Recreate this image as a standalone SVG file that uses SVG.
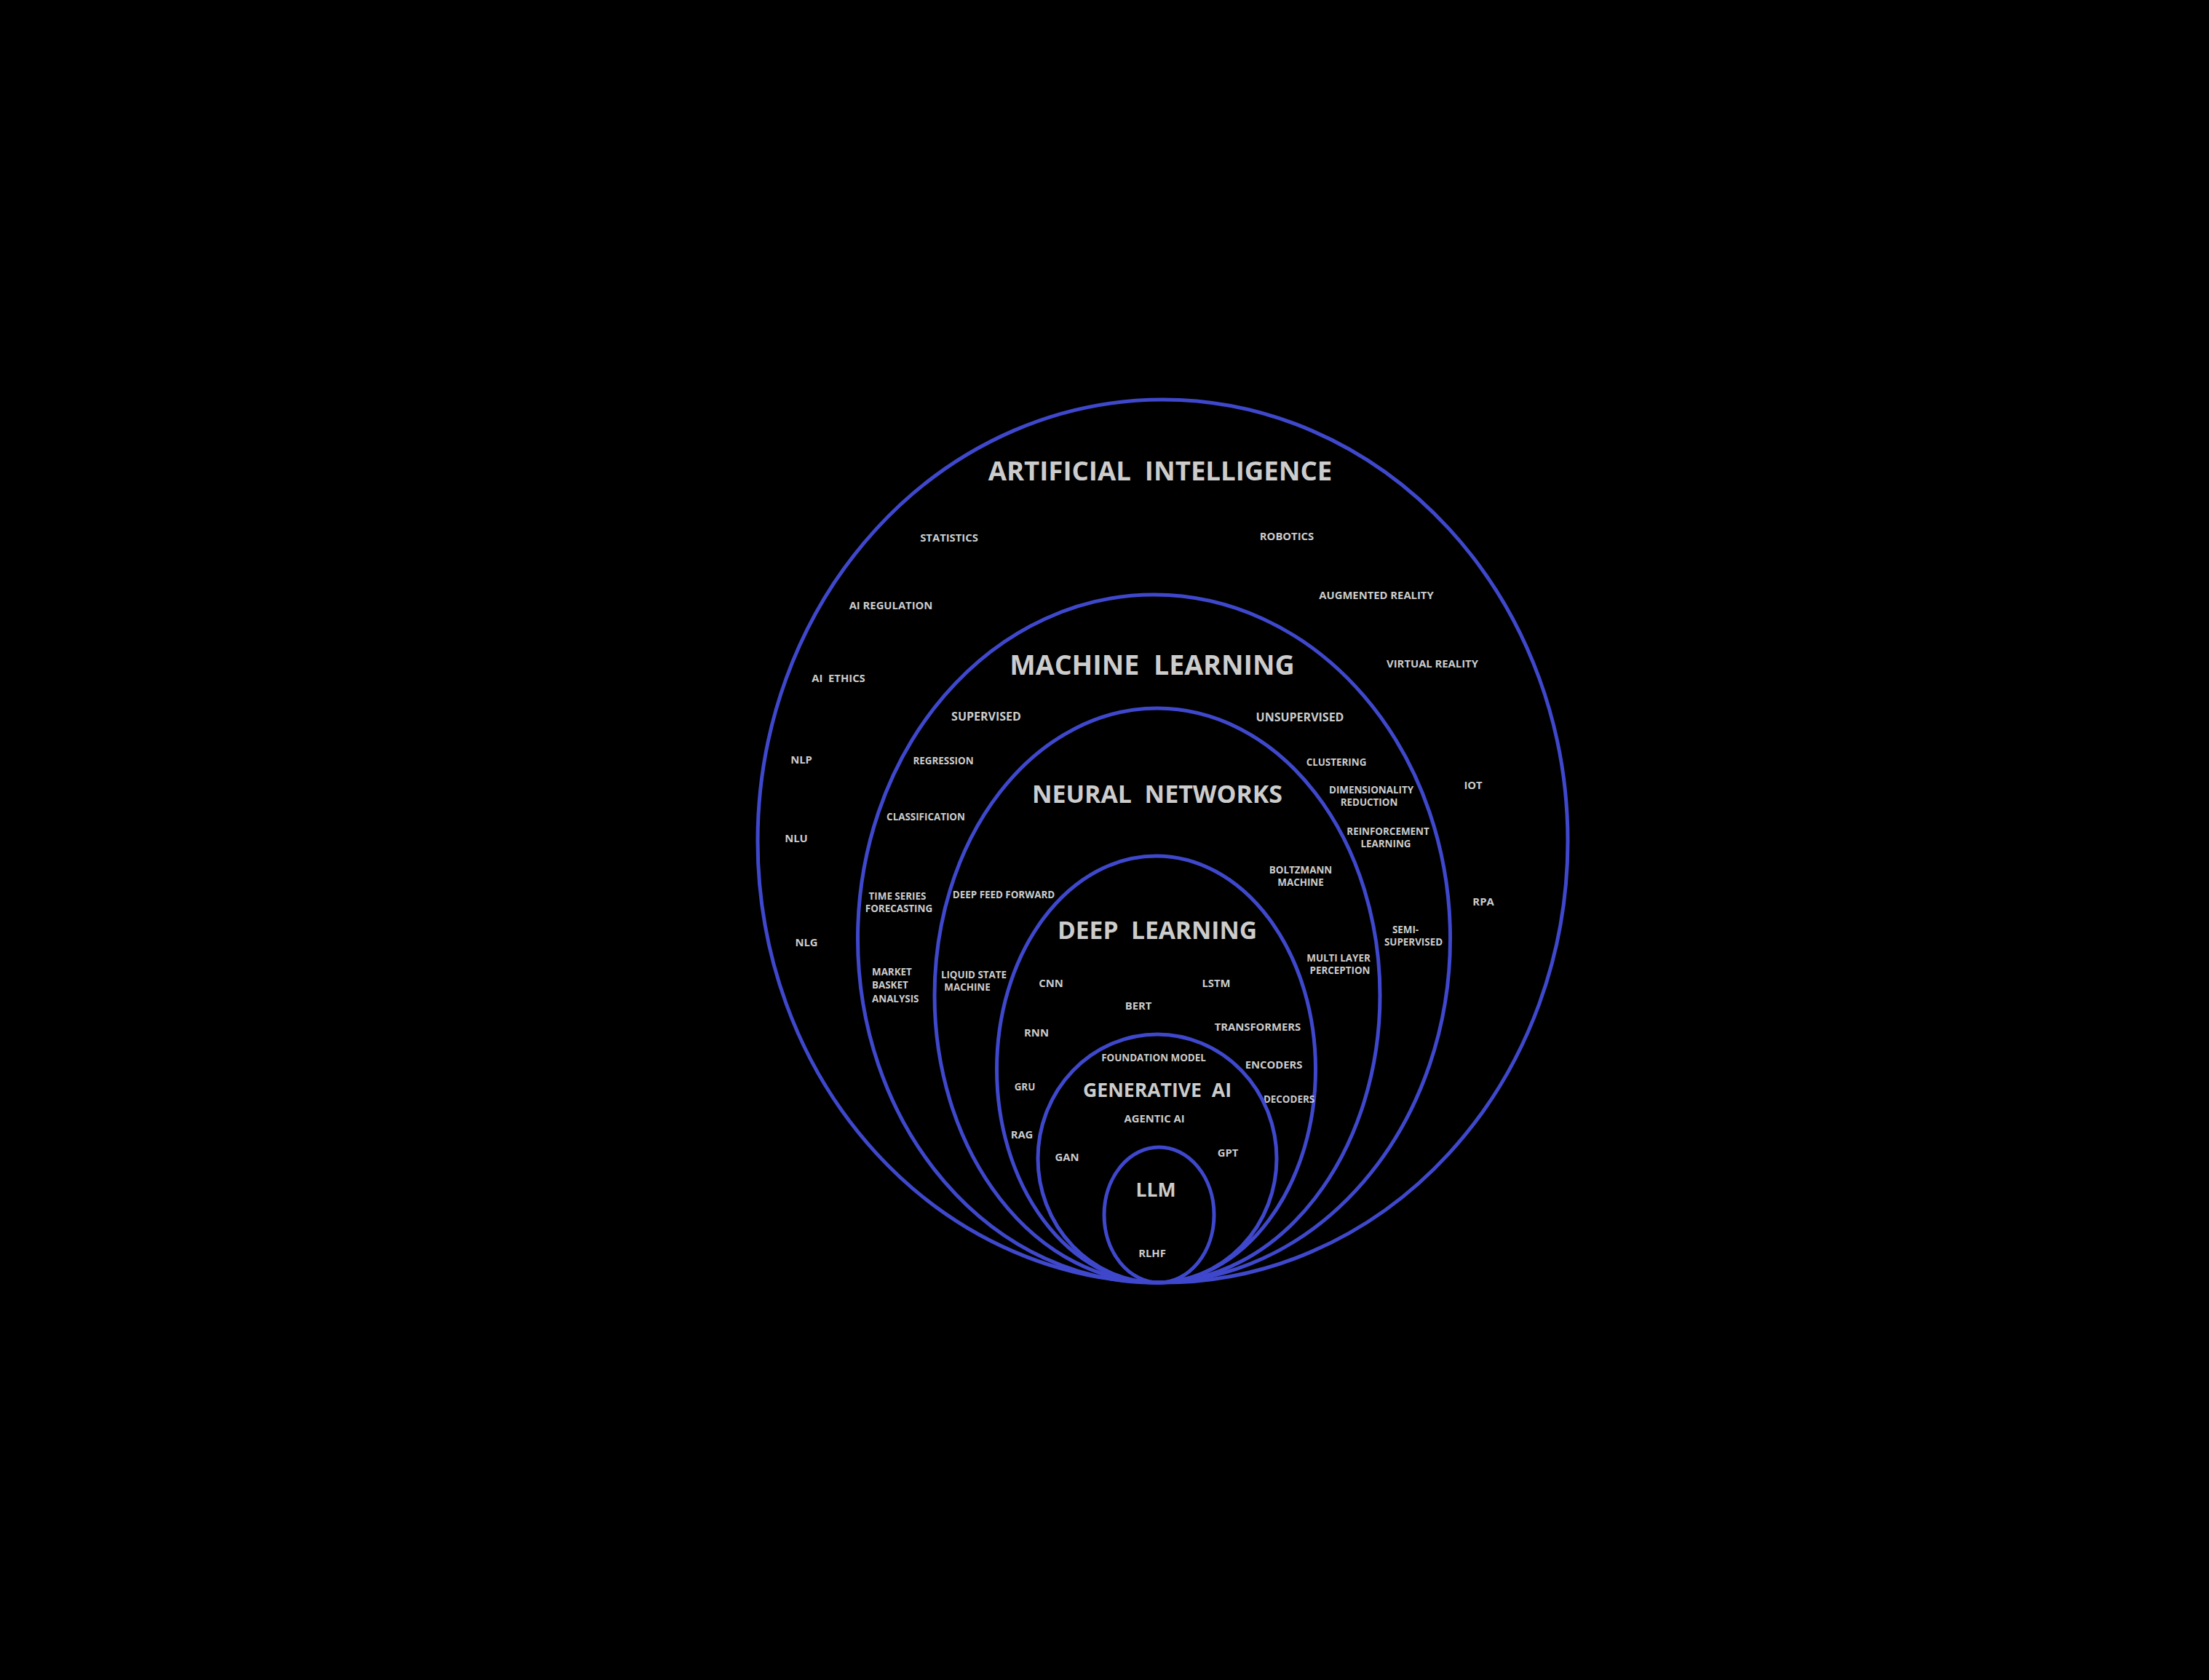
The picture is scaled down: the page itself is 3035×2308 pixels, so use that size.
<svg xmlns="http://www.w3.org/2000/svg" width="3035" height="2308" viewBox="0 0 3035 2308">
<style>
.ring{fill:none;stroke:#3F48CC;stroke-width:5}
text{font-family:"Open Sans","Noto Sans","Liberation Sans",sans-serif;font-weight:700;fill:#CCCCCC;text-anchor:middle;white-space:pre}
.t1{font-size:36.6px}
.t1b{font-size:37.6px}
.t2{font-size:33.9px}
.t2b{font-size:33.6px}
.t3{font-size:26.6px}
.m{font-size:14.8px}
.l{font-size:16px}
.s{font-size:13.4px}
.left{text-anchor:start}
</style>
<rect x="0" y="0" width="3035" height="2308" fill="#000000"/>
<g id="connectors"></g>
<g id="ai">
<ellipse class="ring" cx="1597.5" cy="1155.5" rx="556.5" ry="606.5"/>
<text class="t1" x="1594" y="660" xml:space="preserve">ARTIFICIAL  INTELLIGENCE</text>
<text class="m" x="1304" y="744">STATISTICS</text>
<text class="m" x="1768" y="742">ROBOTICS</text>
<text class="m" x="1891" y="823">AUGMENTED REALITY</text>
<text class="m" x="1224" y="837">AI REGULATION</text>
<text class="m" x="1968" y="917">VIRTUAL REALITY</text>
<text class="m" x="1152" y="937" xml:space="preserve">AI  ETHICS</text>
<text class="m" x="1101" y="1049">NLP</text>
<text class="m" x="1094" y="1157">NLU</text>
<text class="m" x="1108" y="1300">NLG</text>
<text class="m" x="2024" y="1084">IOT</text>
<text class="m" x="2038" y="1244">RPA</text>
</g>
<g id="ml">
<ellipse class="ring" cx="1585.5" cy="1289.5" rx="407" ry="472.5"/>
<text class="t1b" x="1583" y="927" xml:space="preserve">MACHINE  LEARNING</text>
<text class="l" x="1355" y="990">SUPERVISED</text>
<text class="l" x="1786" y="991">UNSUPERVISED</text>
<text class="s" x="1296" y="1050">REGRESSION</text>
<text class="s" x="1272" y="1127">CLASSIFICATION</text>
<text class="s" x="1233" y="1236">TIME SERIES</text>
<text class="s" x="1235" y="1253">FORECASTING</text>
<text class="s left" x="1198" y="1340">MARKET</text>
<text class="s left" x="1198" y="1358">BASKET</text>
<text class="s left" x="1198" y="1377">ANALYSIS</text>
<text class="s" x="1836" y="1052">CLUSTERING</text>
<text class="s" x="1884" y="1090">DIMENSIONALITY</text>
<text class="s" x="1881" y="1107">REDUCTION</text>
<text class="s" x="1907" y="1147">REINFORCEMENT</text>
<text class="s" x="1904" y="1164">LEARNING</text>
<text class="s" x="1931" y="1282">SEMI-</text>
<text class="s" x="1942" y="1299">SUPERVISED</text>
</g>
<g id="nn">
<ellipse class="ring" cx="1590" cy="1367.5" rx="306" ry="394.5"/>
<text class="t2" x="1590" y="1103" xml:space="preserve">NEURAL  NETWORKS</text>
<text class="s" x="1379" y="1234">DEEP FEED FORWARD</text>
<text class="s" x="1338" y="1344">LIQUID STATE</text>
<text class="s" x="1329" y="1361">MACHINE</text>
<text class="s" x="1787" y="1200">BOLTZMANN</text>
<text class="s" x="1787" y="1217">MACHINE</text>
<text class="s" x="1839" y="1321">MULTI LAYER</text>
<text class="s" x="1841" y="1338">PERCEPTION</text>
</g>
<g id="dl">
<ellipse class="ring" cx="1588.5" cy="1469" rx="219" ry="293"/>
<text class="t2b" x="1590" y="1290" xml:space="preserve">DEEP  LEARNING</text>
<text class="m" x="1444" y="1356">CNN</text>
<text class="m" x="1671" y="1356">LSTM</text>
<text class="m" x="1564" y="1387">BERT</text>
<text class="m" x="1424" y="1424">RNN</text>
<text class="m" x="1728" y="1416">TRANSFORMERS</text>
<text class="m" x="1750" y="1468">ENCODERS</text>
<text class="s" x="1771" y="1515">DECODERS</text>
<text class="s" x="1408" y="1498">GRU</text>
<text class="m" x="1404" y="1564">RAG</text>
</g>
<g id="genai">
<ellipse class="ring" cx="1590" cy="1591.5" rx="164" ry="170.5"/>
<text class="t3" x="1590" y="1507" xml:space="preserve">GENERATIVE  AI</text>
<text class="s" x="1585" y="1458">FOUNDATION MODEL</text>
<text class="m" x="1586" y="1542">AGENTIC AI</text>
<text class="m" x="1466" y="1595">GAN</text>
<text class="m" x="1687" y="1589">GPT</text>
</g>
<g id="llm">
<ellipse class="ring" cx="1592.5" cy="1669" rx="75.5" ry="93"/>
<text class="t3" x="1588" y="1644">LLM</text>
<text class="m" x="1583" y="1727">RLHF</text>
</g>
</svg>
